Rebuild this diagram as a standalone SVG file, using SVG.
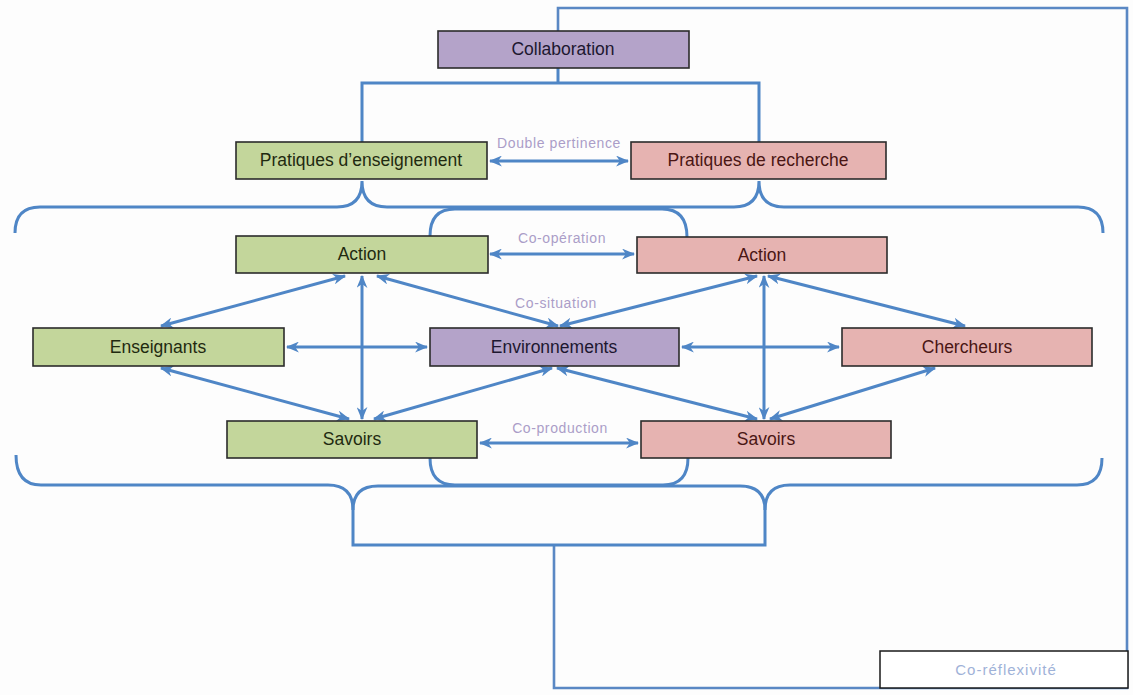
<svg xmlns="http://www.w3.org/2000/svg" width="1133" height="695" viewBox="0 0 1133 695">
<style>
.bg{fill:#fdfdfd}
.box{stroke:#2b2b2b;stroke-width:1.6}
.g{fill:#c3d69b}
.p{fill:#e6b3b1}
.v{fill:#b4a3c9}
.t{font-family:"Liberation Sans",Arial,sans-serif;font-size:17.5px;text-anchor:middle}
.tg{fill:#1f2a10}
.tp{fill:#4a1614}
.tv{fill:#1d1730}
.lbl{font-family:"Liberation Sans",Arial,sans-serif;font-size:14px;text-anchor:middle;fill:#ab9dc8;letter-spacing:0.6px}
.frame{fill:none;stroke:#5a88c4;stroke-width:2.6}
.brace{fill:none;stroke:#4f86c6;stroke-width:3}
.arr{stroke:#4f86c6;stroke-width:3;fill:none;marker-start:url(#ah);marker-end:url(#ah)}
</style>
<defs>
<marker id="ah" viewBox="0 0 12 10" markerWidth="13" markerHeight="11" refX="11" refY="5" orient="auto-start-reverse" markerUnits="userSpaceOnUse">
<path d="M0,0 L12,5 L0,10 L3.5,5 z" fill="#4f86c6"/>
</marker>
</defs>
<rect class="bg" x="0" y="0" width="1133" height="695"/>

<g id="structure">
<path class="frame" d="M558,31 V8 H1127 V688 H554 V545"/>
<path class="brace" d="M558,68 V83"/>
<path class="brace" d="M362,142 V83 H759 V142"/>
<path class="brace" d="M15,233 Q15,207 40,207 H337 Q362,207 362,181 Q362,207 387,207 H734 Q759,207 759,181 Q759,207 784,207 H1078 Q1103,207 1103,233"/>
<path class="brace" d="M430,236 Q430,209 455,209 H662 Q687,209 687,237"/>
<path class="brace" d="M16,455 Q16,485 41,485 H328 Q353,485 353,510 V545 H765 V510 Q765,485 790,485 H1077 Q1102,485 1102,458"/>
<path class="brace" d="M353,510 Q353,486 378,486 H740 Q765,486 765,510"/>
<path class="brace" d="M430,458 Q430,485 455,485 H663 Q688,485 688,458"/>
</g>

<g id="connectors">
<line class="arr" x1="490" y1="161" x2="628" y2="161"/>
<line class="arr" x1="490" y1="254" x2="634" y2="254"/>
<line class="arr" x1="480" y1="443" x2="638" y2="443"/>
<line class="arr" x1="345" y1="276" x2="161" y2="326"/>
<line class="arr" x1="362" y1="276" x2="362" y2="419"/>
<line class="arr" x1="377" y1="276" x2="558" y2="326"/>
<line class="arr" x1="287" y1="347" x2="427" y2="347"/>
<line class="arr" x1="161" y1="368" x2="349" y2="419"/>
<line class="arr" x1="374" y1="419" x2="552" y2="368"/>
<line class="arr" x1="757" y1="276" x2="560" y2="326"/>
<line class="arr" x1="768" y1="276" x2="965" y2="326"/>
<line class="arr" x1="764" y1="276" x2="764" y2="419"/>
<line class="arr" x1="682" y1="347" x2="839" y2="347"/>
<line class="arr" x1="557" y1="368" x2="757" y2="419"/>
<line class="arr" x1="770" y1="419" x2="935" y2="368"/>
</g>

<g id="labels">
<text class="lbl" x="559" y="148">Double pertinence</text>
<text class="lbl" x="562" y="243">Co-opération</text>
<text class="lbl" x="556" y="308">Co-situation</text>
<text class="lbl" x="560" y="433">Co-production</text>
</g>

<g id="collaboration"><rect class="box v" x="438" y="31" width="251" height="37"/><text class="t tv" x="563" y="55">Collaboration</text></g>
<g id="pratiques-enseignement"><rect class="box g" x="236" y="142" width="251" height="37"/><text class="t tg" x="361" y="166">Pratiques d’enseignement</text></g>
<g id="pratiques-recherche"><rect class="box p" x="631" y="142" width="255" height="37"/><text class="t tp" x="758" y="166">Pratiques de recherche</text></g>
<g id="action-g"><rect class="box g" x="236" y="236" width="252" height="37"/><text class="t tg" x="362" y="260">Action</text></g>
<g id="action-p"><rect class="box p" x="637" y="237" width="250" height="36"/><text class="t tp" x="762" y="261">Action</text></g>
<g id="enseignants"><rect class="box g" x="33" y="328" width="251" height="38"/><text class="t tg" x="158" y="353">Enseignants</text></g>
<g id="environnements"><rect class="box v" x="430" y="328" width="249" height="38"/><text class="t tv" x="554" y="353">Environnements</text></g>
<g id="chercheurs"><rect class="box p" x="842" y="328" width="250" height="38"/><text class="t tp" x="967" y="353">Chercheurs</text></g>
<g id="savoirs-g"><rect class="box g" x="227" y="421" width="250" height="37"/><text class="t tg" x="352" y="445">Savoirs</text></g>
<g id="savoirs-p"><rect class="box p" x="641" y="421" width="250" height="37"/><text class="t tp" x="766" y="445">Savoirs</text></g>
<g id="co-reflexivite"><rect x="880" y="651" width="248" height="37" fill="#ffffff" stroke="#1a1a1a" stroke-width="1.5"/><text class="lbl" x="1006" y="675" style="fill:#9fb2d8;font-size:15px;letter-spacing:1px">Co-réflexivité</text></g>
</svg>
